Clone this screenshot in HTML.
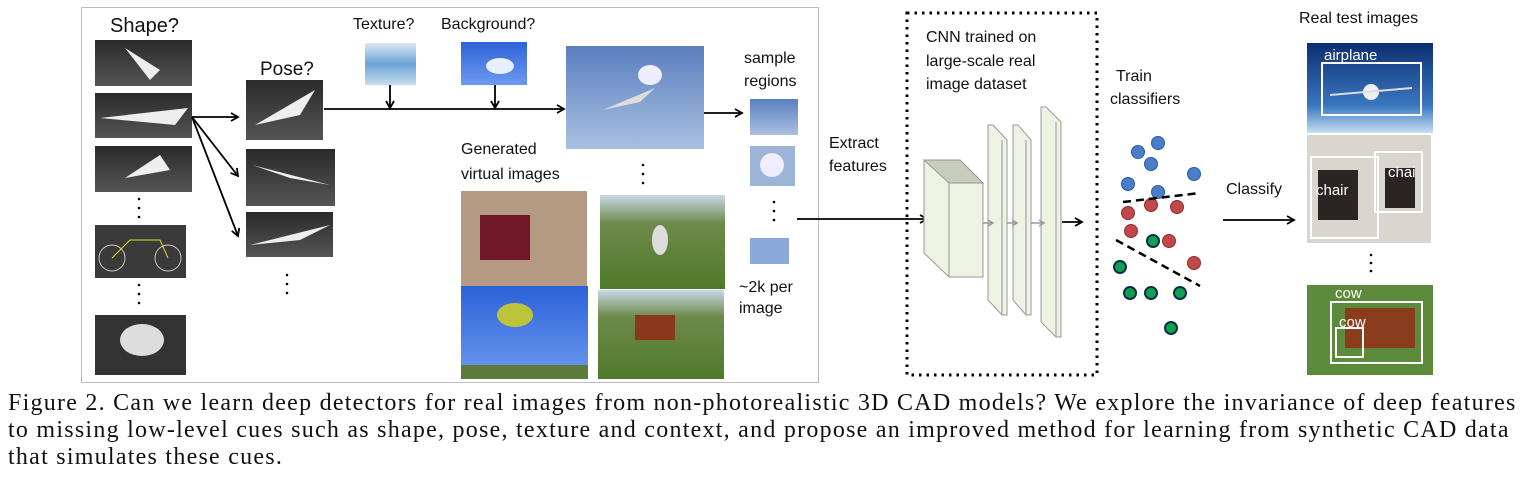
<!DOCTYPE html>
<html><head><meta charset="utf-8"><style>
html,body{margin:0;padding:0;background:#fff;width:1528px;height:491px;overflow:hidden}
svg{position:absolute;left:0;top:0}
.cap{position:absolute;left:8px;font-family:"Liberation Serif",serif;font-size:24px;letter-spacing:1.25px;white-space:nowrap;color:#111;line-height:27px}
svg text{font-family:"Liberation Sans",sans-serif;fill:#111}
</style></head><body>
<svg width="1528" height="391" viewBox="0 0 1528 391">
<defs>
<linearGradient id="dk" x1="0" y1="0" x2="0" y2="1"><stop offset="0" stop-color="#2a2a2a"/><stop offset="1" stop-color="#555"/></linearGradient>
<linearGradient id="sky" x1="0" y1="0" x2="0" y2="1"><stop offset="0" stop-color="#5a7fc0"/><stop offset="1" stop-color="#aac0e0"/></linearGradient>
<linearGradient id="sky2" x1="0" y1="0" x2="0" y2="1"><stop offset="0" stop-color="#2d62d8"/><stop offset="1" stop-color="#6d9af0"/></linearGradient>
<linearGradient id="grass" x1="0" y1="0" x2="0" y2="1"><stop offset="0" stop-color="#c9d8e6"/><stop offset=".3" stop-color="#6d8a4a"/><stop offset="1" stop-color="#4f7a2a"/></linearGradient>
<linearGradient id="air" x1="0" y1="0" x2="0" y2="1"><stop offset="0" stop-color="#0c2e70"/><stop offset=".7" stop-color="#3a78c0"/><stop offset="1" stop-color="#c6dff2"/></linearGradient>
<linearGradient id="tex" x1="0" y1="0" x2="0" y2="1"><stop offset="0" stop-color="#dde8f2"/><stop offset=".5" stop-color="#6aa4d8"/><stop offset="1" stop-color="#c8def0"/></linearGradient>
<marker id="ah" markerWidth="10" markerHeight="10" refX="8" refY="5" orient="auto" markerUnits="userSpaceOnUse"><path d="M1,1 L8,5 L1,9" fill="none" stroke="#000" stroke-width="1.8"/></marker>
<marker id="ahg" markerWidth="8" markerHeight="8" refX="6" refY="4" orient="auto" markerUnits="userSpaceOnUse"><path d="M1,1 L6,4 L1,7" fill="none" stroke="#999" stroke-width="1.5"/></marker>
</defs>
<rect x="81.5" y="7.5" width="737" height="375" fill="none" stroke="#bbb" stroke-width="1"/>
<text x="110" y="32" font-size="20">Shape?</text>
<rect x="95" y="40" width="97" height="46" fill="url(#dk)"/><path d="M125,48 L160,70 L150,80 Z" fill="#eee"/>
<rect x="95" y="93" width="97" height="45" fill="url(#dk)"/><path d="M100,118 L188,108 L175,125 Z" fill="#eee"/>
<rect x="95" y="146" width="97" height="46" fill="url(#dk)"/><path d="M125,178 L160,155 L170,170 Z" fill="#eee"/>
<rect x="95" y="225" width="91" height="53" fill="#3a3a3a"/><circle cx="112" cy="258" r="13" fill="none" stroke="#ccc"/><circle cx="168" cy="258" r="13" fill="none" stroke="#ccc"/><path d="M112,258 L130,240 L160,240 L168,258" fill="none" stroke="#dd3"/>
<rect x="95" y="315" width="91" height="60" fill="#333"/><ellipse cx="142" cy="340" rx="22" ry="16" fill="#ddd"/>
<g fill="#000"><circle cx="139" cy="199" r="1.3"/><circle cx="139" cy="208" r="1.3"/><circle cx="139" cy="217" r="1.3"/><circle cx="139" cy="285" r="1.3"/><circle cx="139" cy="294" r="1.3"/><circle cx="139" cy="303" r="1.3"/>
<circle cx="287" cy="275" r="1.3"/><circle cx="287" cy="284" r="1.3"/><circle cx="287" cy="293" r="1.3"/>
<circle cx="643" cy="165" r="1.3"/><circle cx="643" cy="174" r="1.3"/><circle cx="643" cy="183" r="1.3"/>
<circle cx="774" cy="202" r="1.3"/><circle cx="774" cy="211" r="1.3"/><circle cx="774" cy="220" r="1.3"/>
<circle cx="1371" cy="255" r="1.3"/><circle cx="1371" cy="263" r="1.3"/><circle cx="1371" cy="271" r="1.3"/></g>
<g stroke="#000" stroke-width="1.8" fill="none">
<line x1="192" y1="117" x2="238" y2="117" marker-end="url(#ah)"/>
<line x1="192" y1="117" x2="238" y2="176" marker-end="url(#ah)"/>
<line x1="192" y1="117" x2="238" y2="236" marker-end="url(#ah)"/>
<line x1="324" y1="109" x2="564" y2="109" marker-end="url(#ah)"/>
<line x1="390" y1="85" x2="390" y2="108" marker-end="url(#ah)"/>
<line x1="495" y1="85" x2="495" y2="108" marker-end="url(#ah)"/>
<line x1="704" y1="113" x2="742" y2="113" marker-end="url(#ah)"/>
<line x1="797" y1="219" x2="927" y2="219" marker-end="url(#ah)"/>
<line x1="1062" y1="222" x2="1082" y2="222" marker-end="url(#ah)"/>
<line x1="1223" y1="220" x2="1294" y2="220" marker-end="url(#ah)"/>
</g>
<text x="260" y="75" font-size="19">Pose?</text>
<rect x="246" y="80" width="77" height="60" fill="url(#dk)"/><path d="M255,125 L315,90 L300,115 Z" fill="#eee"/>
<rect x="246" y="149" width="89" height="57" fill="url(#dk)"/><path d="M252,165 L330,185 L290,178 Z" fill="#eee"/>
<rect x="246" y="212" width="87" height="45" fill="url(#dk)"/><path d="M250,245 L330,225 L300,240 Z" fill="#eee"/>
<text x="353" y="29" font-size="16">Texture?</text><text x="441" y="29" font-size="16">Background?</text>
<rect x="365" y="43" width="51" height="42" fill="url(#tex)"/>
<rect x="461" y="42" width="66" height="43" fill="url(#sky2)"/><ellipse cx="500" cy="66" rx="14" ry="8" fill="#e8f0ff"/>
<rect x="566" y="46" width="138" height="103" fill="url(#sky)"/><path d="M603,110 L655,88 L640,102 Z" fill="#ddd"/><ellipse cx="650" cy="75" rx="12" ry="10" fill="#eef"/>
<text x="744" y="63" font-size="16">sample</text><text x="744" y="86" font-size="16">regions</text>
<rect x="750" y="99" width="48" height="36" fill="url(#sky)"/>
<rect x="750" y="146" width="45" height="40" fill="#9bb4d8"/><ellipse cx="772" cy="165" rx="12" ry="12" fill="#eef"/>
<rect x="750" y="238" width="39" height="26" fill="#8aa8da"/>
<text x="739" y="292" font-size="16">~2k per</text><text x="739" y="313" font-size="16">image</text>
<text x="461" y="154" font-size="16">Generated</text><text x="461" y="179" font-size="16">virtual images</text>
<rect x="461" y="191" width="126" height="95" fill="#b49a82"/><rect x="480" y="215" width="50" height="45" fill="#701828"/>
<rect x="461" y="286" width="127" height="93" fill="url(#sky2)"/><ellipse cx="515" cy="315" rx="18" ry="12" fill="#bcc43a"/><rect x="461" y="365" width="127" height="14" fill="#5c7a3a"/>
<rect x="600" y="195" width="125" height="94" fill="url(#grass)"/><ellipse cx="660" cy="240" rx="8" ry="15" fill="#ddd"/>
<rect x="598" y="290" width="126" height="89" fill="url(#grass)"/><rect x="635" y="315" width="40" height="25" fill="#8a3a1a"/>
<rect x="907" y="13" width="190" height="362" fill="none" stroke="#000" stroke-width="3" stroke-dasharray="2.5,5"/>
<text x="926" y="42" font-size="16">CNN trained on</text><text x="926" y="66" font-size="16">large-scale real</text><text x="926" y="89" font-size="16">image dataset</text>
<text x="829" y="148" font-size="16">Extract</text><text x="829" y="171" font-size="16">features</text>
<polygon points="924,160 960,160 983,183 983,277 949,277 924,253" fill="#eef2e2" stroke="#999"/>
<polygon points="924,160 960,160 983,183 949,183" fill="#c8ccbc" stroke="#999"/><line x1="949" y1="183" x2="949" y2="277" stroke="#999"/>
<polygon points="988,125 993,125 1007,140 1007,315 1002,315 988,300" fill="#eef2e2" stroke="#999"/><line x1="1002" y1="140" x2="1002" y2="315" stroke="#999"/>
<polygon points="1013,125 1018,125 1031,140 1031,315 1026,315 1013,300" fill="#eef2e2" stroke="#999"/><line x1="1026" y1="140" x2="1026" y2="315" stroke="#999"/>
<polygon points="1041,107 1046,107 1061,122 1061,337 1056,337 1041,322" fill="#eef2e2" stroke="#999"/><line x1="1056" y1="122" x2="1056" y2="337" stroke="#999"/>
<g stroke="#999" stroke-width="1.5"><line x1="983" y1="223" x2="993" y2="223" marker-end="url(#ahg)"/><line x1="1007" y1="223" x2="1017" y2="223" marker-end="url(#ahg)"/><line x1="1031" y1="223" x2="1044" y2="223" marker-end="url(#ahg)"/></g>
<text x="1116" y="81" font-size="16">Train</text><text x="1110" y="104" font-size="16">classifiers</text>
<g fill="#4a7ec8" stroke="#2a5aa0"><circle cx="1158" cy="143" r="6.5"/><circle cx="1138" cy="152" r="6.5"/><circle cx="1151" cy="164" r="6.5"/><circle cx="1194" cy="174" r="6.5"/><circle cx="1128" cy="184" r="6.5"/><circle cx="1158" cy="192" r="6.5"/></g>
<g fill="#c04848" stroke="#903030"><circle cx="1151" cy="205" r="6.5"/><circle cx="1177" cy="207" r="6.5"/><circle cx="1128" cy="213" r="6.5"/><circle cx="1131" cy="231" r="6.5"/><circle cx="1169" cy="241" r="6.5"/><circle cx="1194" cy="263" r="6.5"/></g>
<g fill="#10a050" stroke="#08304a" stroke-width="2"><circle cx="1153" cy="241" r="6"/><circle cx="1120" cy="267" r="6"/><circle cx="1130" cy="293" r="6"/><circle cx="1151" cy="293" r="6"/><circle cx="1180" cy="293" r="6"/><circle cx="1171" cy="328" r="6"/></g>
<g stroke="#000" stroke-width="2.5" stroke-dasharray="8,5"><line x1="1123" y1="202" x2="1200" y2="193"/><line x1="1116" y1="240" x2="1200" y2="286"/></g>
<text x="1226" y="194" font-size="16">Classify</text>
<text x="1299" y="23" font-size="16">Real test images</text>
<rect x="1307" y="43" width="126" height="90" fill="url(#air)"/><rect x="1322" y="63" width="99" height="52" fill="none" stroke="#fff" stroke-width="2"/><ellipse cx="1371" cy="92" rx="8" ry="8" fill="#eee"/><line x1="1330" y1="95" x2="1412" y2="88" stroke="#ddd" stroke-width="2"/>
<text x="1324" y="60" font-size="15" style="fill:#fff">airplane</text>
<rect x="1307" y="135" width="124" height="108" fill="#d8d6ce"/><rect x="1318" y="170" width="40" height="50" fill="#2a2522"/><rect x="1385" y="168" width="30" height="40" fill="#2a2522"/>
<rect x="1311" y="157" width="67" height="81" fill="none" stroke="#fff" stroke-width="2"/><rect x="1375" y="152" width="47" height="60" fill="none" stroke="#fff" stroke-width="2"/>
<text x="1316" y="195" font-size="15" style="fill:#fff">chair</text><text x="1388" y="177" font-size="15" style="fill:#fff">chai</text>
<rect x="1307" y="285" width="126" height="90" fill="#5a8a3a"/><rect x="1345" y="308" width="70" height="40" fill="#8a3c1c"/>
<rect x="1331" y="302" width="91" height="61" fill="none" stroke="#fff" stroke-width="2"/><rect x="1336" y="328" width="27" height="29" fill="none" stroke="#fff" stroke-width="2"/>
<text x="1335" y="298" font-size="15" style="fill:#fff">cow</text><text x="1339" y="327" font-size="15" style="fill:#fff">cow</text>
</svg>
<div class="cap" style="top:390px">Figure 2. Can we learn deep detectors for real images from non-photorealistic 3D CAD models? We explore the invariance of deep features</div>
<div class="cap" style="top:417px">to missing low-level cues such as shape, pose, texture and context, and propose an improved method for learning from synthetic CAD data</div>
<div class="cap" style="top:444px">that simulates these cues.</div>
</body></html>
